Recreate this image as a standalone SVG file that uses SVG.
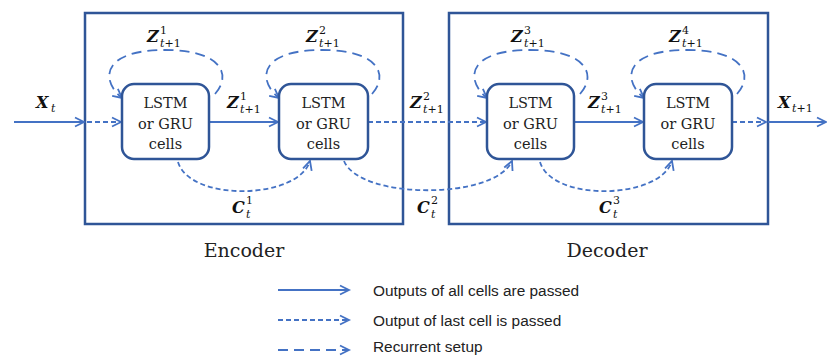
<svg xmlns="http://www.w3.org/2000/svg" width="827" height="356" viewBox="0 0 827 356">
<defs>
<style>
.box{fill:none;stroke:#2F5597;stroke-width:2.5}
.cell{fill:#fff;stroke:#2F5597;stroke-width:2.5}
.ct{font-family:"DejaVu Serif","Liberation Serif",serif;font-size:14.5px;fill:#222;text-anchor:middle}
.big{font-family:"DejaVu Serif","Liberation Serif",serif;font-size:19px;fill:#222;text-anchor:middle}
.m{font-family:"DejaVu Serif","Liberation Serif",serif;font-size:16px;font-weight:bold;font-style:italic;fill:#111}
.s{font-family:"DejaVu Serif","Liberation Serif",serif;font-size:11px;fill:#111}
.it{font-style:italic}
.lg{font-family:"Liberation Sans",Arial,sans-serif;font-size:15.4px;fill:#222}
.solid{fill:none;stroke:#4472C4;stroke-width:1.8;marker-end:url(#ah)}
.short{fill:none;stroke:#4472C4;stroke-width:1.8;stroke-dasharray:5 3;marker-end:url(#ah)}
.long{fill:none;stroke:#4472C4;stroke-width:1.8;stroke-dasharray:10 6;marker-end:url(#ah)}
</style>
<marker id="ah" markerUnits="userSpaceOnUse" markerWidth="14" markerHeight="14" refX="10" refY="6" orient="auto">
<path d="M1,1.5 L10,6 L1,10.5" fill="none" stroke="#4472C4" stroke-width="1.8"/>
</marker>
</defs>

<g id="encoder">
<rect class="box" x="85" y="13" width="318" height="211"/>
<text class="big" x="244" y="257">Encoder</text>
</g>
<g id="decoder">
<rect class="box" x="449" y="13" width="319" height="211"/>
<text class="big" x="607" y="257">Decoder</text>
</g>

<g id="connectors">
<path class="solid" d="M14 122 H84"/>
<path class="short" d="M87 122 H121"/>
<path class="solid" d="M209 122 H278"/>
<path class="short" d="M368 122 H486"/>
<path class="solid" d="M574 122 H643"/>
<path class="short" d="M732 122 H766"/>
<path class="solid" d="M768 122 H826"/>
<path class="long" d="M215 94 C232 75,222 50,165 50 C102 50,100 80,122 98"/>
<path class="long" d="M372 94 C389 75,379 50,322 50 C259 50,257 80,279 98"/>
<path class="long" d="M580 94 C597 75,587 50,530 50 C467 50,465 80,487 98"/>
<path class="long" d="M737 94 C754 75,744 50,687 50 C624 50,622 80,644 98"/>
<path class="short" d="M178 162 C190 202,298 200,310 161"/>
<path class="short" d="M344 161 C360 200,495 200,512 161"/>
<path class="short" d="M540 162 C552 202,660 200,672 161"/>
</g>

<g id="cell1">
<rect class="cell" x="122" y="84" width="87" height="75" rx="12"/>
<text class="ct" x="165.5" y="108">LSTM</text>
<text class="ct" x="165.5" y="129">or GRU</text>
<text class="ct" x="165.5" y="149">cells</text>
</g>
<g id="cell2">
<rect class="cell" x="279" y="84" width="89" height="75" rx="12"/>
<text class="ct" x="323.5" y="108">LSTM</text>
<text class="ct" x="323.5" y="129">or GRU</text>
<text class="ct" x="323.5" y="149">cells</text>
</g>
<g id="cell3">
<rect class="cell" x="487" y="84" width="87" height="75" rx="12"/>
<text class="ct" x="530.5" y="108">LSTM</text>
<text class="ct" x="530.5" y="129">or GRU</text>
<text class="ct" x="530.5" y="149">cells</text>
</g>
<g id="cell4">
<rect class="cell" x="644" y="84" width="88" height="75" rx="12"/>
<text class="ct" x="688" y="108">LSTM</text>
<text class="ct" x="688" y="129">or GRU</text>
<text class="ct" x="688" y="149">cells</text>
</g>

<g id="labels">
<text class="m" x="147" y="42">Z</text><text class="s" x="160" y="34">1</text><text class="s" x="160" y="47"><tspan class="it">t</tspan>+1</text>
<text class="m" x="306" y="42">Z</text><text class="s" x="319" y="34">2</text><text class="s" x="319" y="47"><tspan class="it">t</tspan>+1</text>
<text class="m" x="511" y="42">Z</text><text class="s" x="524" y="34">3</text><text class="s" x="524" y="47"><tspan class="it">t</tspan>+1</text>
<text class="m" x="669" y="42">Z</text><text class="s" x="682" y="34">4</text><text class="s" x="682" y="47"><tspan class="it">t</tspan>+1</text>
<text class="m" x="227" y="108">Z</text><text class="s" x="240" y="100">1</text><text class="s" x="240" y="113"><tspan class="it">t</tspan>+1</text>
<text class="m" x="410" y="108">Z</text><text class="s" x="423" y="100">2</text><text class="s" x="423" y="113"><tspan class="it">t</tspan>+1</text>
<text class="m" x="588" y="108">Z</text><text class="s" x="601" y="100">3</text><text class="s" x="601" y="113"><tspan class="it">t</tspan>+1</text>
<text class="m" x="36" y="108">X</text><text class="s it" x="51" y="112">t</text>
<text class="m" x="778" y="108">X</text><text class="s" x="792" y="112"><tspan class="it">t</tspan>+1</text>
<text class="m" x="232" y="213">C</text><text class="s" x="246" y="204">1</text><text class="s it" x="246" y="218">t</text>
<text class="m" x="417" y="213">C</text><text class="s" x="431" y="204">2</text><text class="s it" x="431" y="218">t</text>
<text class="m" x="599" y="213">C</text><text class="s" x="613" y="204">3</text><text class="s it" x="613" y="218">t</text>
</g>

<g id="legend">
<path class="solid" d="M278 290 H349"/>
<path class="short" d="M278 320 H349"/>
<path class="long" d="M278 350 H349"/>
<text class="lg" x="373" y="296">Outputs of all cells are passed</text>
<text class="lg" x="373" y="326">Output of last cell is passed</text>
<text class="lg" x="373" y="352">Recurrent setup</text>
</g>
</svg>
